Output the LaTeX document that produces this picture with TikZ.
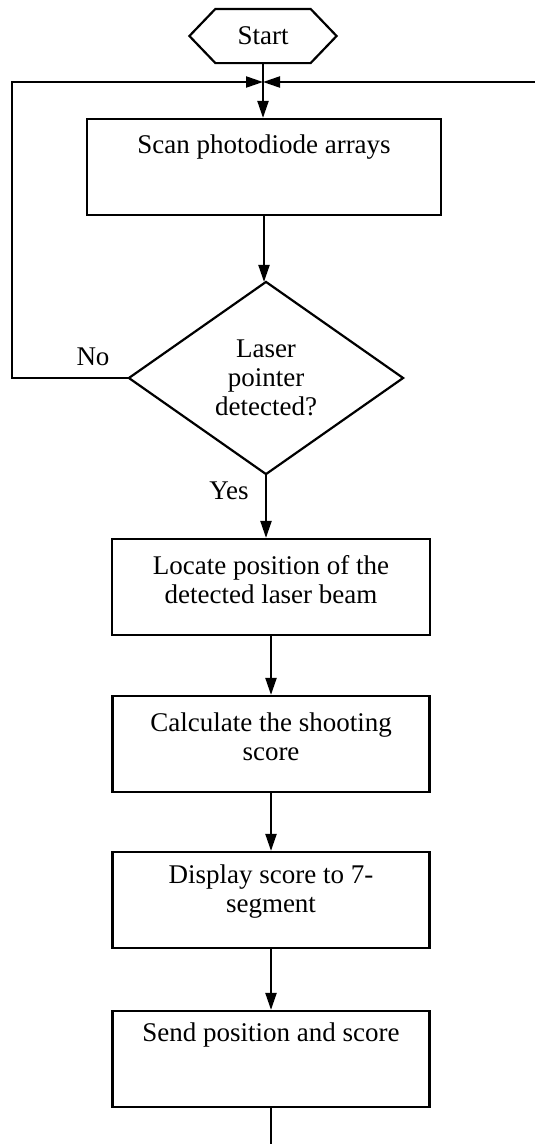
\documentclass[tikz,border=0pt]{standalone}
\usepackage{fontspec}
\setmainfont{Liberation Serif}
\usetikzlibrary{arrows.meta}
\begin{document}
\begin{tikzpicture}[x=1pt,y=-1pt,line width=2.2pt,
  box/.style={draw, rectangle, minimum height=96pt, inner sep=0pt},
  txt/.style={font=\fontsize{27}{29}\selectfont, align=center, inner sep=0pt},
  ghost/.style={rectangle, inner sep=0pt, font=\fontsize{27}{29}\selectfont, align=center},
  arr/.style={-{Triangle[length=17pt,width=11pt]}}]
\useasboundingbox (0,0) rectangle (535,1144);

% start hexagon
\node[ghost, minimum width=145pt, minimum height=52pt] (start) at (263,36) {Start};
\draw (start.west) -- ([xshift=26pt]start.north west) -- ([xshift=-26pt]start.north east)
  -- (start.east) -- ([xshift=-26pt]start.south east) -- ([xshift=26pt]start.south west) -- cycle;

% boxes
\node[box, minimum width=354pt] (scan) at (264,167) {};
\node[txt] (scant) at (264,147) {Scan photodiode arrays};

\node[ghost, minimum width=272pt, minimum height=190pt] (dia) at (266,378) {Laser\\pointer\\detected?};
\draw (dia.west) -- (dia.north) -- (dia.east) -- (dia.south) -- cycle;

\node[box, minimum width=318pt] (loc) at (271,587) {};
\node[txt] (loct) at (271,580) {Locate position of the\\detected laser beam};

\node[box, minimum width=317pt] (calc) at (271,744) {};
\node[txt] (calct) at (271,737) {Calculate the shooting\\score};

\node[box, minimum width=317pt] (disp) at (271,900) {};
\node[txt] (dispt) at (271,892) {Display score to 7-\\segment};

\node[box, minimum width=317pt] (send) at (271,1059) {};
\node[txt] (sendt) at (271,1035) {Send position and score};

% labels
\node[txt] (no) at (93,357) {No};
\node[txt] (yes) at (229,491) {Yes};

% connectors
\coordinate (m) at (263,82);
\coordinate (lc) at (12,82);
\coordinate (rin) at (535,82);
\coordinate (bend) at (271,1144);

\draw (start.south) -- (m);
\draw[arr] (m) -- (m |- scan.north);
\draw[arr] (dia.west) -- (lc |- dia.west) -- (lc) -- (m);
\draw[arr] (rin) -- (m);
\draw[arr] (scan.south) -- (scan.south |- dia.north);
\draw[arr] (dia.south) -- (dia.south |- loc.north);
\draw[arr] (loc.south) -- (calc.north);
\draw[arr] (calc.south) -- (disp.north);
\draw[arr] (disp.south) -- (send.north);
\draw (send.south) -- (bend);
\end{tikzpicture}
\end{document}
